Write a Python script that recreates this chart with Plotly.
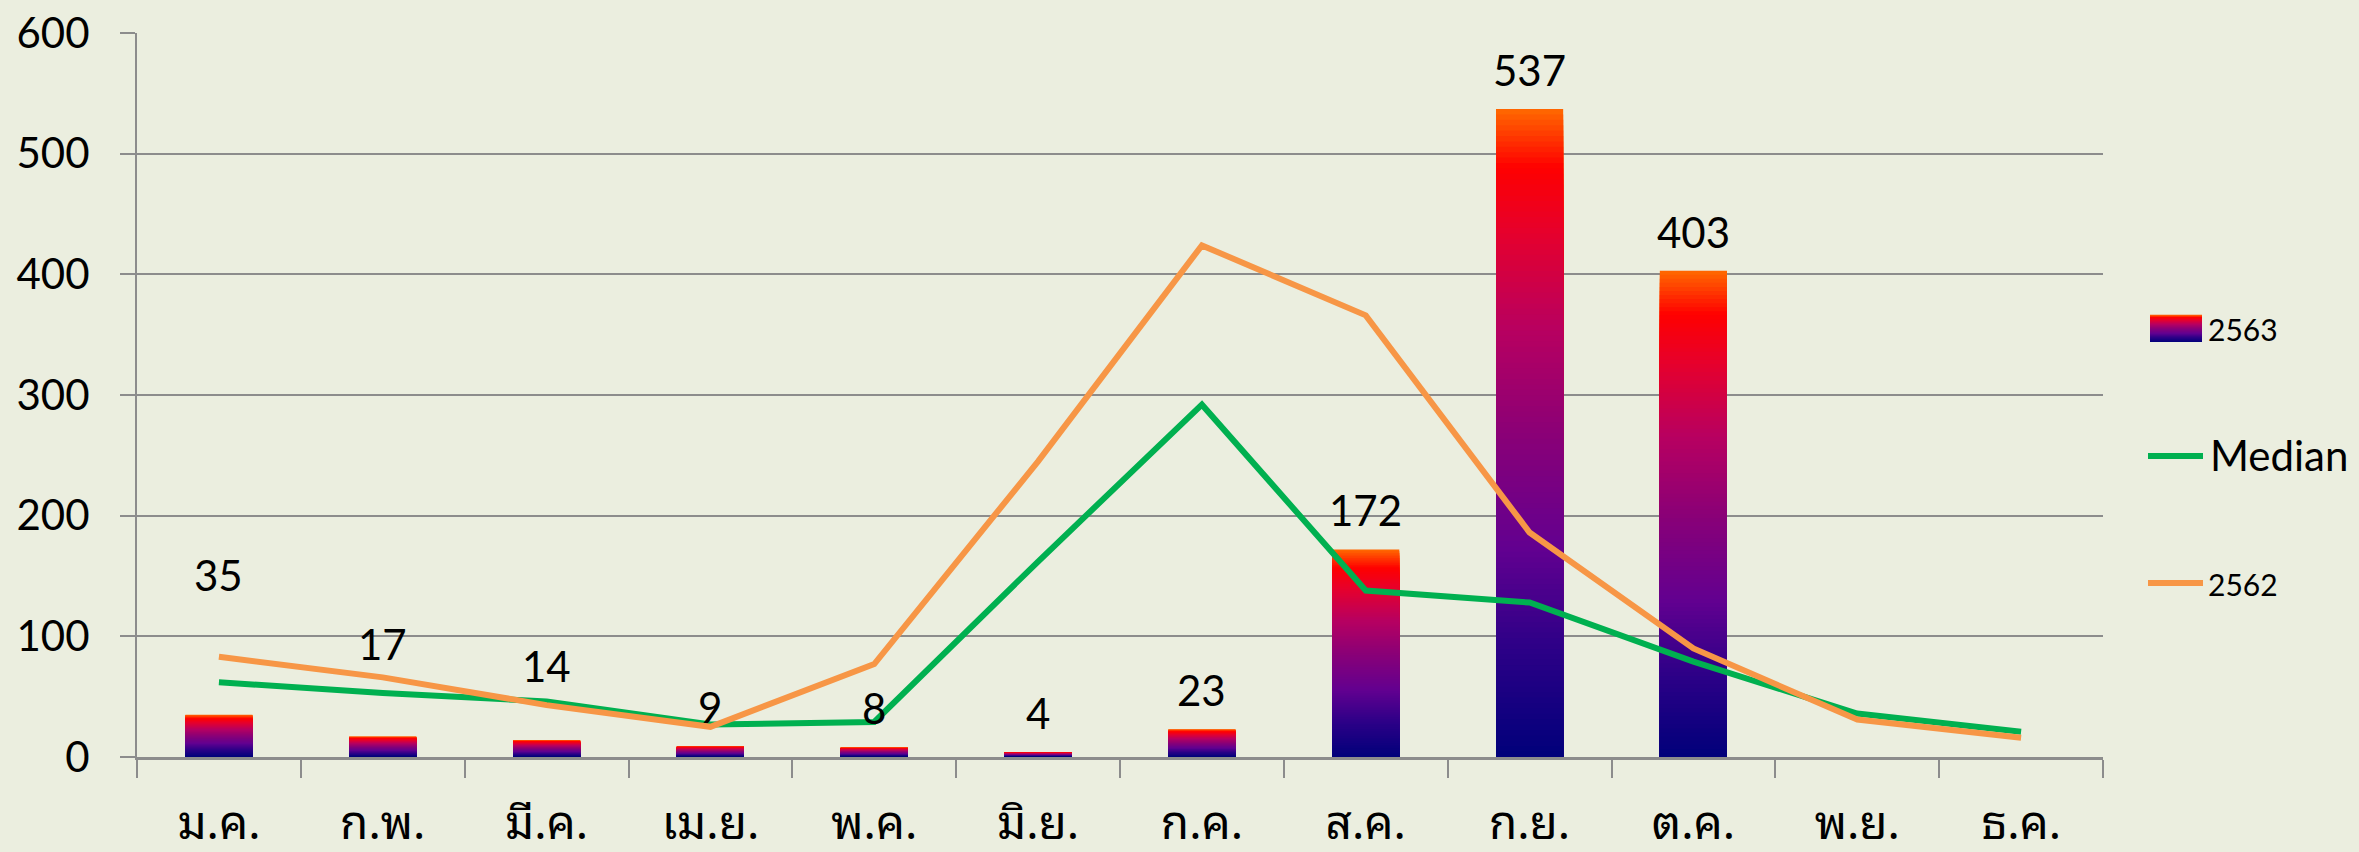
import plotly.graph_objects as go

# ---------------- data ----------------
months = ["ม.ค.", "ก.พ.", "มี.ค.", "เม.ย.", "พ.ค.", "มิ.ย.",
          "ก.ค.", "ส.ค.", "ก.ย.", "ต.ค.", "พ.ย.", "ธ.ค."]
cases_2563 = [35, 17, 14, 9, 8, 4, 23, 172, 537, 403, None, None]
median = [62, 53, 46, 27, 29, 162, 292, 138, 128, 79, 36, 21]
cases_2562 = [83, 66, 43, 25, 77, 245, 424, 366, 186, 90, 31, 16]
y_ticks = [0, 100, 200, 300, 400, 500, 600]

# label pixel offsets above the bar tops (styling)
label_shift = [140, 92, 74, 39, 39, 39, 39, 39, 39, 39]

# ---------------- styling ----------------
W, H = 2359, 852
L, R, T, B = 137, 256, 33, 95
BG = "#EBEEDF"
GRID = "#8C8C8C"
GREEN = "#00B050"
ORANGE = "#F79646"
NUM_FONT = "Lato, 'Open Sans', sans-serif"
THAI_FONT = "'Noto Sans Thai Looped', 'Noto Sans Thai', Loma, Garuda, 'DejaVu Sans', sans-serif"

grad_stops = [(0.0, "#00007A"), (0.18, "#300088"), (0.32, "#620090"),
              (0.49, "#880078"), (0.66, "#B80060"), (0.81, "#E6002C"),
              (0.91, "#FF0000"), (1.0, "#FF6A00")]


def hex2rgb(h):
    h = h.lstrip("#")
    return tuple(int(h[i:i + 2], 16) for i in (0, 2, 4))


def grad_color(f):
    for (f0, c0), (f1, c1) in zip(grad_stops[:-1], grad_stops[1:]):
        if f <= f1:
            t = 0 if f1 == f0 else (f - f0) / (f1 - f0)
            a, b = hex2rgb(c0), hex2rgb(c1)
            return "rgb(%d,%d,%d)" % tuple(round(a[i] + (b[i] - a[i]) * t) for i in range(3))
    return grad_stops[-1][1]


fig = go.Figure()

# gradient bars: overlaid bars of decreasing height, each colour from the gradient
N = 120
for k in range(N):
    frac_top = (N - k) / N
    fig.add_trace(go.Bar(
        x=months,
        y=[v * frac_top if v is not None else None for v in cases_2563],
        marker=dict(color=grad_color((N - k - 0.5) / N), line=dict(width=0)),
        opacity=1, showlegend=False, hoverinfo="skip",
    ))

fig.add_trace(go.Scatter(x=months, y=median, mode="lines", name="Median",
                         line=dict(color=GREEN, width=6), showlegend=False))
fig.add_trace(go.Scatter(x=months, y=cases_2562, mode="lines", name="2562",
                         line=dict(color=ORANGE, width=6), showlegend=False))

# data labels
for m, v, s in zip(months, cases_2563, label_shift + [0] * 12):
    if v is None:
        continue
    fig.add_annotation(x=m, y=v, text=str(v), showarrow=False, yshift=s,
                       yanchor="middle", xanchor="center",
                       font=dict(family=NUM_FONT, size=42, color="black"))


# ---------------- manual legend ----------------
def px(xp):
    return (xp - L) / (W - L - R)


def py(yp):
    return (H - B - yp) / (H - T - B)


# gradient swatch for 2563
sx0, sx1, sy0, sy1 = 2150, 2202, 315, 342
NS = 27
for k in range(NS):
    ya = sy1 - (sy1 - sy0) * k / NS
    yb = sy1 - (sy1 - sy0) * (k + 1) / NS
    fig.add_shape(type="rect", xref="paper", yref="paper",
                  x0=px(sx0), x1=px(sx1), y0=py(ya), y1=py(yb) + 0.0005,
                  fillcolor=grad_color((k + 0.5) / NS), line=dict(width=0), layer="above")
fig.add_annotation(xref="paper", yref="paper", x=px(2206), y=py(329), text="2563",
                   showarrow=False, xanchor="left", yanchor="middle",
                   font=dict(family=NUM_FONT, size=30, color="black"))

fig.add_shape(type="line", xref="paper", yref="paper", x0=px(2148), x1=px(2203),
              y0=py(456), y1=py(456), line=dict(color=GREEN, width=6))
fig.add_annotation(xref="paper", yref="paper", x=px(2208), y=py(455), text="Median",
                   showarrow=False, xanchor="left", yanchor="middle",
                   font=dict(family=NUM_FONT, size=42, color="black"))

fig.add_shape(type="line", xref="paper", yref="paper", x0=px(2148), x1=px(2203),
              y0=py(583), y1=py(583), line=dict(color=ORANGE, width=6))
fig.add_annotation(xref="paper", yref="paper", x=px(2206), y=py(584), text="2562",
                   showarrow=False, xanchor="left", yanchor="middle",
                   font=dict(family=NUM_FONT, size=30, color="black"))

fig.update_layout(
    width=W, height=H,
    margin=dict(l=L, r=R, t=T, b=B, autoexpand=False),
    paper_bgcolor=BG, plot_bgcolor=BG,
    barmode="overlay", bargap=0.59,
    showlegend=False,
    xaxis=dict(type="category", categoryorder="array", categoryarray=months,
               automargin=False,
               showline=True, linecolor=GRID, linewidth=2.5,
               ticks="outside", tickson="boundaries", ticklen=18, tickwidth=2,
               tickcolor=GRID, showgrid=False, zeroline=False,
               tickfont=dict(family=THAI_FONT, size=46, color="black"),
               ticklabelstandoff=24),
    yaxis=dict(range=[0, 600], tickvals=y_ticks, showgrid=True, gridcolor=GRID,
               automargin=False,
               gridwidth=2, showline=True, linecolor=GRID, linewidth=2,
               ticks="outside", ticklen=15, tickwidth=2, tickcolor=GRID,
               zeroline=False, ticklabelstandoff=22,
               tickfont=dict(family=NUM_FONT, size=42, color="black")),
)

fig.write_html("out.html",
               config={"displayModeBar": False},
               post_script="document.body.style.margin='0';"
                           "document.body.style.overflow='hidden';"
                           "document.body.style.background='" + BG + "';")
